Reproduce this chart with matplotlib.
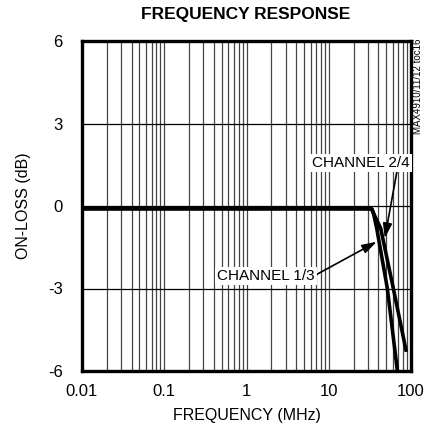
import numpy as np
import matplotlib
matplotlib.use('Agg')
import matplotlib.pyplot as plt
from matplotlib.ticker import FixedLocator, NullFormatter

# data
freq_13 = [0.01, 1, 30, 33.3, 35.2, 38.3, 51.5, 68.1]
loss_13 = [-0.1, -0.1, -0.1, -0.11, -0.3, -0.81, -2.99, -5.96]
freq_24 = [0.01, 1, 30, 33.5, 35.5, 42.8, 60.9, 86.9]
loss_24 = [-0.1, -0.1, -0.1, -0.11, -0.3, -0.81, -2.99, -5.24]
xticks = [0.01, 0.1, 1, 10, 100]
xlabels = ['0.01', '0.1', '1', '10', '100']
yticks = [-6, -3, 0, 3, 6]

plt.rcParams['font.family'] = ['Liberation Sans', 'DejaVu Sans']

fig = plt.figure(figsize=(4.24, 4.32), dpi=100)
ax = fig.add_axes([82/424, 1-371/432, 329/424, 330/432])

ax.set_xscale('log')
ax.set_xlim(0.01, 100)
ax.set_ylim(-6, 6)

minors = [m * 10.0**e for e in range(-2, 2) for m in range(2, 10)]
ax.xaxis.set_major_locator(FixedLocator(xticks))
ax.xaxis.set_minor_locator(FixedLocator(minors))
ax.xaxis.set_minor_formatter(NullFormatter())
ax.set_xticks(xticks)
ax.set_xticklabels(xlabels)
ax.set_yticks(yticks)
ax.set_yticklabels([str(v) for v in yticks])
ax.grid(True, which='both', axis='x', color='#444444', lw=0.9)
ax.grid(True, which='major', axis='y', color='black', lw=0.9)
ax.tick_params(which='both', length=0, labelsize=12)
ax.tick_params(axis='y', pad=14)
ax.tick_params(axis='x', pad=9)

for s in ax.spines.values():
    s.set_linewidth(2.4)

ax.plot(freq_13, loss_13, color='black', lw=2.6, solid_joinstyle='round')
ax.plot(freq_24, loss_24, color='black', lw=2.6, solid_joinstyle='round')

bbox = dict(boxstyle='square,pad=0.12', fc='white', ec='none')
ax.annotate('CHANNEL 2/4', xy=(48, -1.17), xytext=(24.7, 1.56), fontsize=11,
            ha='center', va='center', bbox=bbox,
            arrowprops=dict(arrowstyle='-|>,head_length=0.8,head_width=0.25',
                            color='black', lw=1.2, shrinkA=0, shrinkB=0,
                            relpos=(0.87, 0)))
ax.annotate('CHANNEL 1/3', xy=(38.3, -1.3), xytext=(1.73, -2.55), fontsize=11,
            ha='center', va='center', bbox=bbox,
            arrowprops=dict(arrowstyle='-|>,head_length=0.8,head_width=0.25',
                            color='black', lw=1.2, shrinkA=0, shrinkB=0,
                            relpos=(1.0, 0.55)))

ax.set_xlabel('FREQUENCY (MHz)', fontsize=11.5, labelpad=7)
ax.set_ylabel('ON-LOSS (dB)', fontsize=11.5, labelpad=12)
fig.text(246/424, 1-14/432, 'FREQUENCY RESPONSE', fontsize=12.5, fontweight='bold',
         ha='center', va='center')
fig.text(418/424, 1-86/432, 'MAX4910/11/12 toc16', fontsize=7, rotation=90,
         ha='center', va='center')

fig.savefig('out.png', dpi=100)
